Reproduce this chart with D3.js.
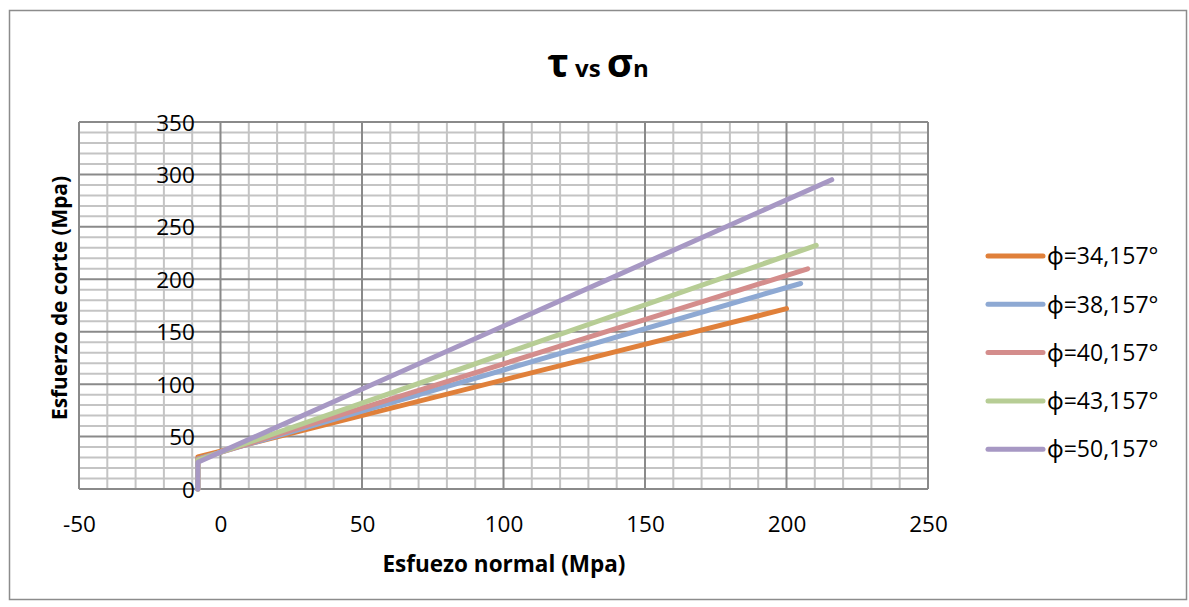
<!DOCTYPE html>
<html><head><meta charset="utf-8">
<script src="https://cdn.jsdelivr.net/npm/d3@7"></script>
<style>
html,body{margin:0;padding:0;background:#fff;}
svg{display:block;font-family:"Open Sans","Noto Sans",sans-serif;}
</style></head>
<body>
<svg id="chart" width="1189" height="607"></svg>
<script>
// ---- data ----
const seriesNames = ["ϕ=34,157°","ϕ=38,157°","ϕ=40,157°","ϕ=43,157°","ϕ=50,157°"];
const sigma34 = [-8, -8, 200];
const tau34   = [0, 30.6, 172];
const sigma38 = [-8, -8, 205];
const tau38   = [0, 28.7, 196];
const sigma40 = [-8, -8, 207.5];
const tau40   = [0, 28.2, 210];
const sigma43 = [-8, -8, 210.5];
const tau43   = [0, 27.5, 232.3];
const sigma50 = [-8, -8, 216];
const tau50   = [0, 25.5, 295];
const xTicks = [-50, 0, 50, 100, 150, 200, 250];
const yTicks = [0, 50, 100, 150, 200, 250, 300, 350];
const colors = ["#E0803A","#8EA9D3","#D48D8C","#B7CD95","#A798C4"];

const seriesX = [sigma34, sigma38, sigma40, sigma43, sigma50];
const seriesY = [tau34, tau38, tau40, tau43, tau50];
const series = seriesNames.map((n,i)=>({name:n, color:colors[i],
  pts: seriesX[i].map((x,j)=>[x, seriesY[i][j]])}));

const svg = d3.select("#chart");
// outer border
svg.append("rect").attr("x",9.5).attr("y",10.5).attr("width",1177).attr("height",589)
  .attr("fill","#fff").attr("stroke","#8c8c8c").attr("stroke-width",1.5);

const x = d3.scaleLinear().domain([-50,250]).range([79,928]);
const y = d3.scaleLinear().domain([0,350]).range([489,122]);

const g = svg.append("g");
// minor grid
const minorX = d3.range(-50,251,10).filter(v=>v%50!==0);
const minorY = d3.range(0,351,10).filter(v=>v%50!==0);
g.selectAll(".mx").data(minorX).enter().append("line")
  .attr("x1",d=>x(d)).attr("x2",d=>x(d)).attr("y1",y(0)).attr("y2",y(350))
  .attr("stroke","#c4c4c4").attr("stroke-width",2);
g.selectAll(".my").data(minorY).enter().append("line")
  .attr("x1",x(-50)).attr("x2",x(250)).attr("y1",d=>y(d)).attr("y2",d=>y(d))
  .attr("stroke","#c4c4c4").attr("stroke-width",2);
// major grid
g.selectAll(".Mx").data(xTicks).enter().append("line")
  .attr("x1",d=>x(d)).attr("x2",d=>x(d)).attr("y1",y(0)).attr("y2",y(350))
  .attr("stroke","#8a8a8a").attr("stroke-width",2);
g.selectAll(".My").data(yTicks).enter().append("line")
  .attr("x1",x(-50)).attr("x2",x(250)).attr("y1",d=>y(d)).attr("y2",d=>y(d))
  .attr("stroke","#8a8a8a").attr("stroke-width",2);

// x axis labels
const xAxis = d3.axisBottom(x).tickValues(xTicks).tickSize(0).tickPadding(0).tickFormat(d=>String(d));
const xa = svg.append("g").attr("transform",`translate(0,${y(0)})`).call(xAxis);
xa.select(".domain").remove();
xa.selectAll("text").attr("font-size",22.5).attr("fill","#000").attr("dy",null).attr("y",43)
  .attr("font-family","Open Sans");
// y axis labels (axis crosses at sigma=-8)
const yAxis = d3.axisLeft(y).tickValues(yTicks).tickSize(0).tickPadding(0).tickFormat(d=>String(d));
const ya = svg.append("g").attr("transform",`translate(${x(-8)-3},0)`).call(yAxis);
ya.select(".domain").remove();
ya.selectAll("text").attr("font-size",22.5).attr("fill","#000").attr("dy","0.36em")
  .attr("font-family","Open Sans");

// series lines
const line = d3.line().x(d=>x(d[0])).y(d=>y(d[1]));
svg.append("g").selectAll("path").data(series).enter().append("path")
  .attr("d",d=>line(d.pts)).attr("fill","none").attr("stroke",d=>d.color)
  .attr("stroke-width",5).attr("stroke-linecap","round").attr("stroke-linejoin","round");

// title
const t = svg.append("text").attr("x",598).attr("y",77).attr("text-anchor","middle")
  .attr("font-weight","bold").attr("fill","#000");
t.append("tspan").attr("font-size",40).text("τ");
t.append("tspan").attr("font-size",24).text(" vs ");
t.append("tspan").attr("font-size",40).text("σ");
t.append("tspan").attr("font-size",24).text("n");

// axis titles
svg.append("text").attr("x",504).attr("y",572).attr("text-anchor","middle")
  .attr("font-size",22.5).attr("font-weight","bold").text("Esfuezo normal (Mpa)");
svg.append("text").attr("transform","translate(67,298) rotate(-90)").attr("text-anchor","middle")
  .attr("font-size",20.8).attr("font-weight","bold").text("Esfuerzo de corte (Mpa)");

// legend
const lg = svg.append("g").selectAll("g").data(series).enter().append("g")
  .attr("transform",(d,i)=>`translate(0,${256+i*48.3})`);
lg.append("line").attr("x1",988).attr("x2",1043).attr("y1",0).attr("y2",0)
  .attr("stroke",d=>d.color).attr("stroke-width",5).attr("stroke-linecap","round");
lg.append("text").attr("x",1047).attr("y",0).attr("dy","0.36em").attr("font-size",23)
  .text(d=>d.name);
</script>
</body></html>
